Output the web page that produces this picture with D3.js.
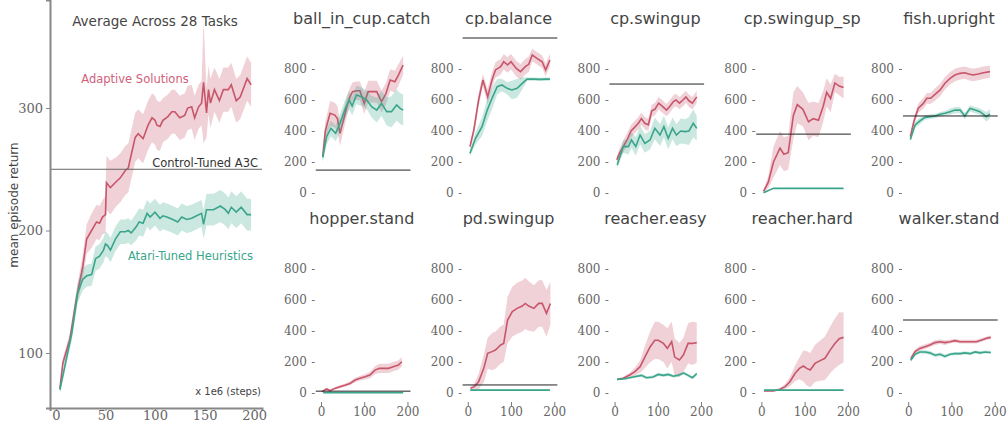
<!DOCTYPE html>
<html>
<head>
<meta charset="utf-8">
<script src="https://cdn.jsdelivr.net/npm/d3@7"></script>
<style>
  body { margin: 0; background: #fff; }
  svg { display: block; }
  .tick-label { font-family: "DejaVu Serif", serif; fill: #666; }
  .title { font-family: "DejaVu Sans", sans-serif; fill: #444; }
</style>
</head>
<body>
<svg id="chart" width="1008" height="423"></svg>
<script>
// colours
const RED = "#c8566b";
const TEAL = "#3aa58b";

// ---- main panel: [step, mean, half-width of band]
const avgRed = [[4,71,3],[7,92,4],[14,111,5],[21,146,7],[27,170,10],[31,193,12],[36,200,14],[41,207,14],[44,206,14],[47,211,14],[50,213,15],[51,239,22],[55,235,22],[61,240,20],[65,243,20],[70,249,20],[73,251,20],[80,276,20],[83,279,20],[88,275,20],[93,286,20],[97,292,20],[100,290,20],[102,286,20],[105,285,20],[108,290,18],[113,293,18],[117,297,18],[120,297,18],[125,292,18],[130,294,18],[133,300,18],[137,301,18],[140,292,18],[144,301,18],[147,304,18],[149,321,50],[152,296,20],[154,315,20],[156,304,20],[160,315,18],[165,306,18],[169,315,18],[174,315,18],[177,319,18],[182,306,18],[186,309,18],[193,324,18],[197,319,18]];
const avgTeal = [[4,70,3],[11,97,5],[16,116,6],[22,149,8],[27,160,9],[31,163,9],[36,164,9],[40,177,10],[44,179,10],[48,184,10],[50,189,10],[52,188,10],[55,184,10],[60,193,10],[65,199,10],[70,199,10],[73,200,10],[76,198,10],[81,203,11],[84,207,11],[88,206,11],[92,214,11],[95,211,11],[100,215,11],[105,210,11],[108,212,11],[112,211,11],[118,209,11],[123,207,11],[127,211,11],[132,209,11],[137,210,11],[142,212,11],[147,214,11],[149,205,12],[152,217,13],[159,217,13],[166,220,13],[171,217,13],[174,214,13],[177,219,13],[182,215,13],[187,219,13],[193,213,13],[197,213,13]];
const avgBaseline = 250;
const avgYTicks = [100, 200, 300];
const avgXTicks = [0, 50, 100, 150, 200];

// ---- small panels
const taskNames = ["ball_in_cup.catch","cp.balance","cp.swingup","cp.swingup_sp","fish.upright",
                   "hopper.stand","pd.swingup","reacher.easy","reacher.hard","walker.stand"];
const taskBaselines = [148, 1000, 703, 380, 497, 12, 52, null, null, 471];
const smallYTicks = [0, 200, 400, 600, 800];
const smallXTicks = [0, 100, 200];

const ballRed = [[4,235,30],[10,400,60],[21,514,80],[32,503,80],[38,480,80],[44,385,80],[52,470,70],[60,560,60],[67,621,60],[73,654,60],[82,660,60],[90,660,60],[100,578,70],[109,654,70],[120,654,70],[129,654,70],[140,589,70],[150,640,70],[160,729,70],[171,718,70],[179,761,70],[190,826,60]];
const ballTeal = [[4,230,30],[13,363,50],[23,417,50],[34,385,50],[44,450,60],[55,535,60],[65,600,60],[72,561,60],[82,632,60],[94,621,60],[106,600,60],[117,557,70],[129,535,80],[140,578,80],[152,525,90],[163,525,100],[175,568,100],[183,546,100],[190,535,100]];
const balRed = [[5,299,20],[14,406,30],[25,600,40],[35,729,40],[46,621,50],[56,729,50],[64,794,50],[76,815,50],[83,847,50],[92,826,50],[100,847,50],[112,804,50],[122,783,50],[133,815,50],[141,830,50],[149,890,40],[160,869,40],[172,847,40],[180,794,40],[190,858,40]];
const balTeal = [[5,256,20],[18,353,40],[33,428,60],[45,535,70],[56,611,70],[68,686,50],[79,697,40],[91,675,40],[102,665,60],[114,675,60],[126,707,40],[137,735,10],[153,735,10],[168,733,10],[180,735,10],[190,735,10]];
const swingRed = [[5,215,20],[12,260,30],[20,300,40],[30,350,40],[38,400,40],[45,420,40],[55,450,40],[62,480,40],[70,450,40],[78,440,40],[86,530,40],[93,540,40],[102,580,40],[110,560,40],[120,535,40],[128,560,40],[136,590,40],[142,600,40],[150,580,40],[158,600,40],[165,620,40],[172,595,40],[180,580,40],[190,620,40]];
const swingTeal = [[6,180,20],[20,299,40],[32,299,50],[39,342,50],[49,300,60],[59,374,60],[70,320,60],[82,342,60],[93,417,70],[105,374,70],[114,428,70],[124,353,70],[134,417,70],[143,374,70],[153,400,80],[163,396,80],[172,400,90],[182,450,90],[190,417,80]];
const sparseRed = [[5,10,10],[16,70,40],[28,200,100],[43,290,110],[52,250,110],[62,260,110],[74,500,150],[83,570,120],[96,540,110],[109,460,120],[120,480,110],[132,470,110],[143,560,100],[151,650,90],[160,610,90],[170,710,60],[180,690,60],[190,680,70]];
const sparseTeal = [[5,2,3],[15,15,3],[28,30,3],[60,30,3],[100,30,3],[150,30,3],[190,30,3]];
const fishRed = [[5,363,20],[13,460,25],[23,546,30],[35,578,35],[43,611,35],[52,611,35],[62,636,40],[74,665,40],[85,708,40],[97,740,40],[108,761,40],[120,772,40],[131,776,40],[140,768,40],[150,761,40],[162,768,40],[174,776,40],[189,783,40]];
const fishTeal = [[5,346,15],[16,439,20],[28,467,20],[39,488,15],[50,492,15],[62,497,15],[74,508,15],[85,514,15],[97,525,20],[108,535,20],[120,535,20],[131,497,20],[143,546,20],[155,535,20],[166,525,20],[181,492,30],[189,510,30]];
const hopperRed = [[2,9,5],[13,26,8],[21,15,8],[32,30,8],[44,41,10],[55,50,10],[67,62,12],[79,84,15],[90,95,15],[102,105,18],[113,116,20],[125,148,25],[135,159,30],[144,159,30],[156,159,30],[167,170,30],[179,180,30],[187,202,30]];
const hopperTeal = [[5,2,4],[50,2,4],[100,2,4],[150,2,4],[190,2,4]];
const pdRed = [[6,30,10],[15,41,20],[25,73,50],[37,159,90],[46,256,100],[56,267,120],[64,277,120],[76,310,120],[83,320,120],[92,471,150],[103,525,160],[114,546,165],[126,561,165],[133,578,165],[141,561,160],[153,546,150],[164,578,150],[172,578,150],[182,514,150],[191,578,140]];
const pdTeal = [[6,19,5],[50,19,5],[100,19,5],[150,19,5],[190,19,5]];
const easyRed = [[6,88,5],[20,95,8],[35,116,15],[47,138,25],[59,170,40],[70,232,70],[82,297,100],[93,340,120],[101,340,120],[113,320,120],[122,288,130],[132,331,130],[139,232,120],[150,213,110],[159,245,110],[170,320,130],[180,320,140],[190,325,130]];
const easyTeal = [[6,88,5],[24,92,6],[43,103,8],[62,114,10],[74,99,10],[89,103,10],[101,120,10],[113,114,10],[124,120,10],[136,108,10],[147,114,10],[160,129,10],[170,114,10],[180,99,10],[190,125,10]];
const hardRed = [[6,13,3],[28,13,3],[43,24,8],[55,41,15],[66,73,30],[78,127,50],[88,159,70],[97,174,100],[105,159,110],[113,148,110],[124,191,120],[136,209,130],[147,224,140],[159,277,150],[170,320,160],[180,351,170],[190,359,160]];
const hardTeal = [[6,19,3],[50,19,3],[100,19,3],[150,19,3],[190,19,3]];
const walkerRed = [[6,221,15],[16,267,15],[27,288,15],[39,299,15],[50,310,15],[62,325,15],[74,331,15],[85,325,15],[97,331,12],[108,338,12],[120,331,12],[131,331,12],[143,331,12],[158,331,12],[170,342,12],[181,353,12],[191,359,12]];
const walkerTeal = [[6,211,10],[16,250,10],[27,265,10],[39,265,12],[50,259,12],[62,244,12],[74,250,12],[85,236,12],[97,250,10],[108,254,10],[120,254,10],[131,259,10],[143,254,10],[155,265,10],[166,259,10],[178,265,10],[191,261,10]];

const taskRed = [ballRed, balRed, swingRed, sparseRed, fishRed, hopperRed, pdRed, easyRed, hardRed, walkerRed];
const taskTeal = [ballTeal, balTeal, swingTeal, sparseTeal, fishTeal, hopperTeal, pdTeal, easyTeal, hardTeal, walkerTeal];

const svg = d3.select("#chart");

function drawSeries(g, data, x, y, color) {
    let area = d3.area()
        .x(d => x(d[0]))
        .y0(d => y(d[1] - d[2]))
        .y1(d => y(d[1] + d[2]));
    let line = d3.line()
        .x(d => x(d[0]))
        .y(d => y(d[1]));
    g.append("path").datum(data)
        .attr("d", area)
        .attr("fill", color)
        .attr("fill-opacity", 0.27);
    g.append("path").datum(data)
        .attr("d", line)
        .attr("fill", "none")
        .attr("stroke", color)
        .attr("stroke-width", 1.6);
}

// ---------------- main panel
{
    let x = d3.scaleLinear().domain([-6, 208]).range([50, 262]);
    let y = d3.scaleLinear().domain([55.1, 388.2]).range([408, 0]);
    let g = svg.append("g");

    drawSeries(g, avgRed, x, y, RED);
    drawSeries(g, avgTeal, x, y, TEAL);

    g.append("line")
        .attr("x1", x.range()[0]).attr("x2", x.range()[1])
        .attr("y1", y(avgBaseline)).attr("y2", y(avgBaseline))
        .attr("stroke", "#666").attr("stroke-width", 1);

    let yAxis = g.append("g")
        .attr("transform", "translate(50,0)")
        .call(d3.axisLeft(y).tickValues(avgYTicks).tickSize(4).tickPadding(3));
    let xAxis = g.append("g")
        .attr("transform", "translate(0,408)")
        .call(d3.axisBottom(x).tickValues(avgXTicks).tickSize(3).tickPadding(0));
    [yAxis, xAxis].forEach(a => {
        a.select(".domain").attr("stroke", "#888").attr("stroke-width", 2);
        a.selectAll(".tick line").attr("stroke", "#888");
        a.selectAll(".tick text").attr("class", "tick-label")
            .style("font-size", "13px").attr("fill", "#666");
    });

    g.append("text").attr("class", "title")
        .attr("x", 155).attr("y", 26)
        .attr("text-anchor", "middle")
        .style("font-size", "13.5px")
        .text("Average Across 28 Tasks");

    g.append("text").attr("class", "title")
        .attr("transform", "translate(18,205) rotate(-90)")
        .attr("text-anchor", "middle")
        .style("font-size", "12px")
        .text("mean episode return");

    g.append("text")
        .attr("x", 135).attr("y", 83)
        .attr("text-anchor", "middle")
        .style("font-family", "DejaVu Sans").style("font-size", "11.5px")
        .attr("fill", "#d0607a")
        .text("Adaptive Solutions");
    g.append("text")
        .attr("x", 258).attr("y", 167)
        .attr("text-anchor", "end")
        .style("font-family", "DejaVu Sans").style("font-size", "11.5px")
        .attr("fill", "#333")
        .text("Control-Tuned A3C");
    g.append("text")
        .attr("x", 253).attr("y", 260)
        .attr("text-anchor", "end")
        .style("font-family", "DejaVu Sans").style("font-size", "11.5px")
        .attr("fill", TEAL)
        .text("Atari-Tuned Heuristics");
    g.append("text")
        .attr("x", 261).attr("y", 395)
        .attr("text-anchor", "end")
        .style("font-family", "DejaVu Sans").style("font-size", "10px")
        .attr("fill", "#444")
        .text("x 1e6 (steps)");
}

// ---------------- small panels
taskNames.forEach((name, i) => {
    let col = i % 5, row = Math.floor(i / 5);
    let left = 315.8 + 146.8 * col;
    let zero = 193 + 200 * row;
    let x = d3.scaleLinear().domain([-12, 207]).range([left, left + 94.7]);
    let y = d3.scaleLinear().domain([-45, 1000]).range([zero + 7, zero - 155]);
    let g = svg.append("g");

    drawSeries(g, taskRed[i], x, y, RED);
    drawSeries(g, taskTeal[i], x, y, TEAL);

    if (taskBaselines[i] !== null) {
        g.append("line")
            .attr("x1", x.range()[0]).attr("x2", x.range()[1])
            .attr("y1", y(taskBaselines[i])).attr("y2", y(taskBaselines[i]))
            .attr("stroke", "#222").attr("stroke-width", 1);
    }

    let yAxis = g.append("g")
        .attr("transform", `translate(${left},0)`)
        .call(d3.axisLeft(y).tickValues(smallYTicks).tickSize(4).tickPadding(5));
    yAxis.select(".domain").remove();
    yAxis.selectAll(".tick line").attr("stroke", "#777").attr("x1", -1).attr("x2", -4);

    if (row === 1) {
        let xAxis = g.append("g")
            .attr("transform", `translate(0,${zero + 8})`)
            .call(d3.axisBottom(x).tickValues(smallXTicks).tickSize(4).tickPadding(2));
        xAxis.select(".domain").remove();
        xAxis.selectAll(".tick line").attr("stroke", "#777").attr("y1", 1).attr("y2", 5);
        xAxis.selectAll(".tick text").attr("class", "tick-label")
            .style("font-size", "12px").attr("fill", "#666");
    }
    yAxis.selectAll(".tick text").attr("class", "tick-label")
        .style("font-size", "12px").attr("fill", "#666");

    g.append("text").attr("class", "title")
        .attr("x", left + 46).attr("y", 24 + 200 * row)
        .attr("text-anchor", "middle")
        .style("font-size", "16px")
        .text(name);
});
</script>
</body>
</html>
